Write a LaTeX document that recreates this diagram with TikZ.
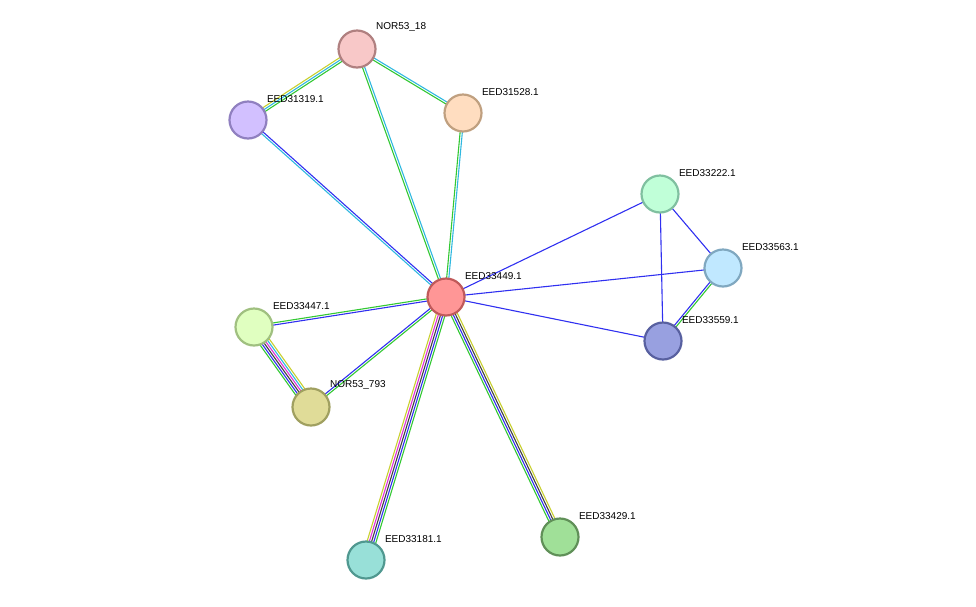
\documentclass[tikz,border=0pt]{standalone}
\usepackage{fontspec}
\setmainfont{Liberation Sans}
\usetikzlibrary{calc,backgrounds}
\definecolor{egreen}{HTML}{33C833}
\definecolor{eblue}{HTML}{3030F0}
\definecolor{ecyan}{HTML}{30B8E0}
\definecolor{eyellow}{HTML}{C8D030}
\definecolor{emag}{HTML}{E030D8}
\definecolor{eblack}{HTML}{404040}
\tikzset{>=stealth}
% multi-band edge: from, to, number of bands, colour list
\newcommand{\band}[4]{
  \foreach \c [count=\i] in {#4} {
    \pgfmathsetmacro{\o}{(\i-(#3+1)/2)*2.2}
    \draw[\c, line width=1.1pt] ($(#1)!\o pt!90:(#2)$) -- ($(#2)!\o pt!-90:(#1)$);
  }
}
\begin{document}
\begin{tikzpicture}[x=1pt,y=-1pt,
    prot/.style={circle, minimum size=37pt, inner sep=0pt, line width=2.2pt},
    lbl/.style={font=\fontsize{10}{12}\selectfont, inner sep=1pt, xshift=4pt, yshift=2pt}]
  \useasboundingbox (0,0) rectangle (976,606);
  % proteins
  \node[prot, fill={rgb,255:red,255;green,150;blue,150}, draw={rgb,255:red,192;green,90;blue,90}, label={[lbl]above right:EED33449.1}] (c) at (446,297) {};
  \node[prot, fill={rgb,255:red,248;green,200;blue,200}, draw={rgb,255:red,176;green,128;blue,128}, label={[lbl]above right:NOR53\_18}] (n18) at (357,49) {};
  \node[prot, fill={rgb,255:red,210;green,192;blue,255}, draw={rgb,255:red,144;green,128;blue,192}, label={[lbl]above right:EED31319.1}] (a319) at (248,120) {};
  \node[prot, fill={rgb,255:red,255;green,221;blue,192}, draw={rgb,255:red,192;green,160;blue,128}, label={[lbl]above right:EED31528.1}] (a528) at (463,113) {};
  \node[prot, fill={rgb,255:red,192;green,255;blue,216}, draw={rgb,255:red,128;green,192;blue,160}, label={[lbl]above right:EED33222.1}] (a222) at (660,194) {};
  \node[prot, fill={rgb,255:red,192;green,232;blue,255}, draw={rgb,255:red,128;green,168;blue,192}, label={[lbl]above right:EED33563.1}] (a563) at (723,268) {};
  \node[prot, fill={rgb,255:red,152;green,160;blue,224}, draw={rgb,255:red,88;green,96;blue,160}, label={[lbl]above right:EED33559.1}] (a559) at (663,341) {};
  \node[prot, fill={rgb,255:red,224;green,255;blue,192}, draw={rgb,255:red,160;green,192;blue,128}, label={[lbl]above right:EED33447.1}] (a447) at (254,327) {};
  \node[prot, fill={rgb,255:red,224;green,220;blue,152}, draw={rgb,255:red,160;green,160;blue,96}, label={[lbl]above right:NOR53\_793}] (n793) at (311,407) {};
  \node[prot, fill={rgb,255:red,160;green,224;blue,152}, draw={rgb,255:red,96;green,144;blue,88}, label={[lbl]above right:EED33429.1}] (a429) at (560,537) {};
  \node[prot, fill={rgb,255:red,152;green,224;blue,216}, draw={rgb,255:red,80;green,152;blue,144}, label={[lbl]above right:EED33181.1}] (a181) at (366,560) {};
  % interactions
  \begin{scope}[on background layer]
    \band{n18}{a319}{3}{eyellow,ecyan,egreen}
    \band{n18}{a528}{2}{egreen,ecyan}
    \band{n18}{c}{2}{egreen,ecyan}
    \band{a528}{c}{2}{egreen,ecyan}
    \band{a319}{c}{2}{ecyan,eblue}
    \band{a222}{c}{1}{eblue}
    \band{a222}{a563}{1}{eblue}
    \band{a222}{a559}{1}{eblue}
    \band{a563}{c}{1}{eblue}
    \band{a559}{c}{1}{eblue}
    \band{a563}{a559}{2}{eblue,egreen}
    \band{a447}{c}{2}{eblue,egreen}
    \band{n793}{c}{2}{egreen,eblue}
    \band{a447}{n793}{6}{egreen,eblue,eblack,emag,ecyan,eyellow}
    \band{a181}{c}{5}{egreen,eblue,eblack,emag,eyellow}
    \band{a429}{c}{4}{eyellow,eblack,eblue,egreen}
  \end{scope}
\end{tikzpicture}
\end{document}
